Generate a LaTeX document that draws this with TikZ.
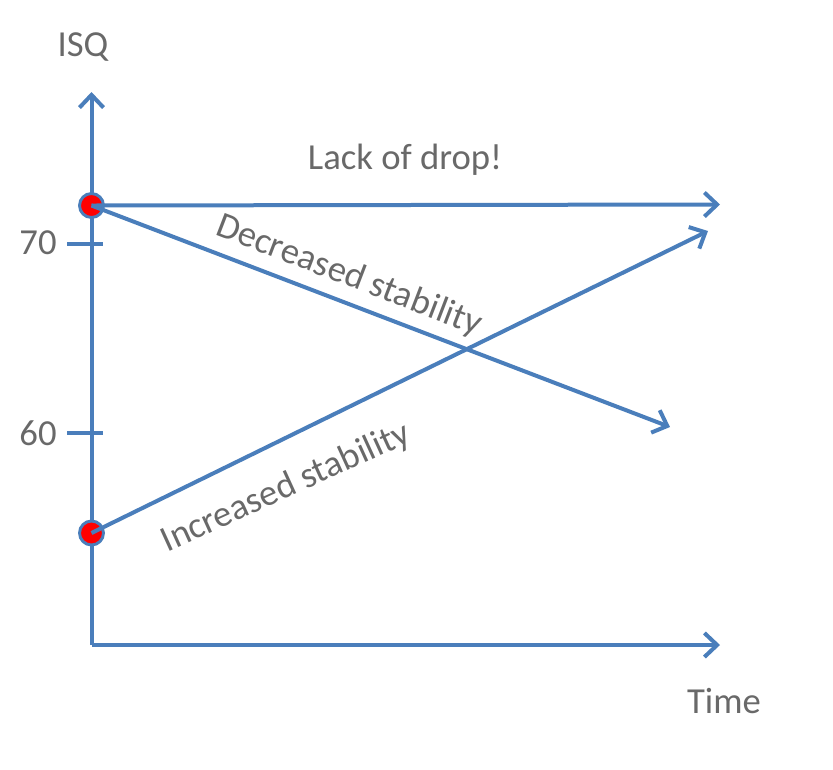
\documentclass[tikz,border=0pt]{standalone}
\usepackage{fontspec}
\setmainfont{Carlito}
\usetikzlibrary{arrows.meta}
\definecolor{lineblue}{RGB}{74,126,187}
\definecolor{labelgray}{RGB}{105,105,105}
\tikzset{every picture/.style={line width=0.75pt}}
\tikzset{
  axisline/.style={draw=lineblue, line width=3pt, -{Straight Barb[length=9.5pt,width=18pt,line width=3pt]}},
  trendline/.style={axisline},
  tickline/.style={draw=lineblue, line width=3pt},
  startdot/.style={circle, draw=lineblue, fill=red, line width=2.2pt, minimum size=18pt, inner sep=0pt},
  lbl/.style={text=labelgray, font=\fontsize{27.5}{32}\selectfont, inner sep=0pt}
}

\begin{document}
\begin{tikzpicture}[x=0.75pt,y=0.75pt,yscale=-1,xscale=1]
\useasboundingbox (0,0) rectangle (833,769);

%Axis corner and ends
\coordinate (origin) at (91.5,645);
\coordinate (ytop) at (91.5,92);
\coordinate (xend) at (720,645);
%Shape: Axis 2D
\draw [axisline] (origin) -- (ytop);
\draw [axisline] (origin) -- (xend);

%Straight Lines: ticks
\draw [tickline] (67,244) -- (103,244);
\draw [tickline] (67,433) -- (103,433);

%Shape: Circle
\node [startdot] (high) at (91.5,205.5) {};
\node [startdot] (low) at (91.5,533) {};

%Line ends
\coordinate (flatend) at (720,204.5);
\coordinate (downend) at (670,427);
\coordinate (upend) at (708,231);

%Straight Lines
\draw [trendline] (high.center) -- (flatend);
\draw [trendline] (high.center) -- (downend);
\draw [trendline] (low.center) -- (upend);

% Text Node
\node [lbl] (isq) at (83,47) {ISQ};
% Text Node
\node [lbl] (time) at (724,701) {Time};
% Text Node
\node [lbl] (seventy) at (38,243) {70};
% Text Node
\node [lbl] (sixty) at (38,433) {60};
% Text Node
\node [lbl] (nodrop) at (405,160) {Lack of drop!};
% Text Node
\node [lbl, rotate=-21] (decr) at (349,276) {Decreased stability};
% Text Node
\node [lbl, rotate=24.5] (incr) at (286,488) {Increased stability};

\end{tikzpicture}
\end{document}
